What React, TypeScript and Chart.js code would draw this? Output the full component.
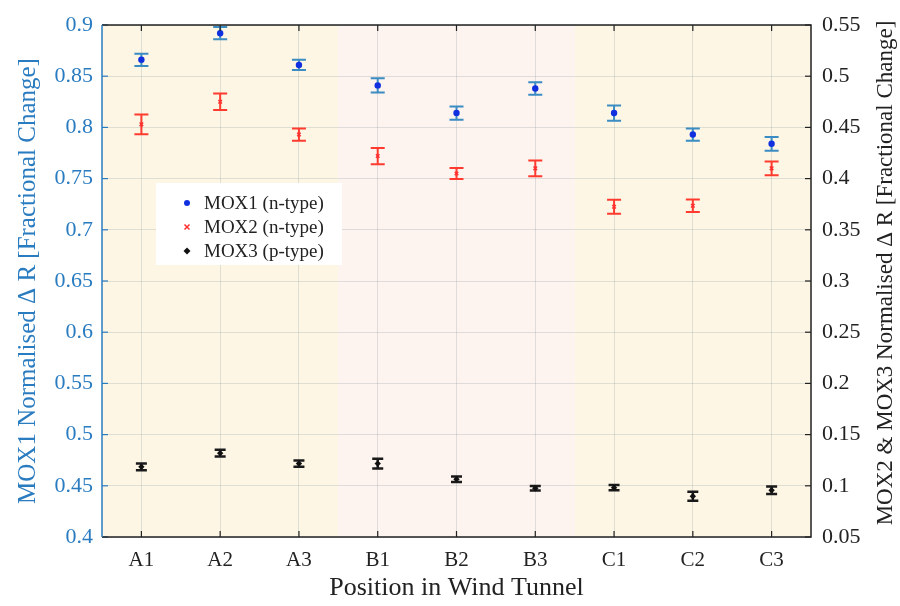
import React, { useEffect, useRef } from "react";
import { Chart, registerables } from "chart.js";

Chart.register(...registerables);

const positions = ["A1", "A2", "A3", "B1", "B2", "B3", "C1", "C2", "C3"];
const mox1 = [0.866, 0.892, 0.861, 0.841, 0.814, 0.838, 0.814, 0.793, 0.784];
const mox1Err = [0.006, 0.006, 0.005, 0.007, 0.0065, 0.006, 0.0075, 0.006, 0.0067];
const mox2 = [0.453, 0.475, 0.443, 0.422, 0.405, 0.41, 0.3725, 0.3735, 0.41];
const mox2Err = [0.0096, 0.008, 0.006, 0.008, 0.0054, 0.0076, 0.0068, 0.006, 0.0067];
const mox3 = [0.1185, 0.1319, 0.1217, 0.1217, 0.1064, 0.0976, 0.0982, 0.0898, 0.0957];
const mox3Err = [0.0033, 0.0033, 0.003, 0.0047, 0.0028, 0.0023, 0.0025, 0.0044, 0.0036];
const leftTickStep = 0.05;
const rightTickStep = 0.05;
const legendLabels = ["MOX1 (n-type)", "MOX2 (n-type)", "MOX3 (p-type)"];
const rightTitle = "MOX2 & MOX3 Normalised Δ R [Fractional Change]";

const FONT = "'Liberation Serif', 'Times New Roman', serif";
const BLUE_AXIS = "#2a7cc0";

const errorSeries = [
  { data: mox1, err: mox1Err, axis: "y", color: "#3a8cc2", width: 2, cap: 7 },
  { data: mox2, err: mox2Err, axis: "y1", color: "#ff3b2f", width: 2, cap: 7 },
  { data: mox3, err: mox3Err, axis: "y1", color: "#1a1a1a", width: 2.5, cap: 5.5 },
];

const fmt = (v: number) => String(+Number(v).toFixed(2));

const bgPlugin = {
  id: "bands",
  beforeDraw(chart: any) {
    const { ctx, chartArea: a, scales } = chart;
    const x = scales.x;
    const b1 = x.getPixelForValue(2.5);
    const b2 = x.getPixelForValue(5.5);
    ctx.save();
    ctx.fillStyle = "#fdf6e4";
    ctx.fillRect(a.left, a.top, b1 - a.left, a.bottom - a.top);
    ctx.fillStyle = "#fdf3ef";
    ctx.fillRect(b1, a.top, b2 - b1, a.bottom - a.top);
    ctx.fillStyle = "#fdf6e4";
    ctx.fillRect(b2, a.top, a.right - b2, a.bottom - a.top);
    ctx.restore();
  },
  beforeDatasetsDraw(chart: any) {
    const { ctx, scales } = chart;
    const x = scales.x;
    ctx.save();
    errorSeries.forEach((s) => {
      const ys = scales[s.axis];
      ctx.strokeStyle = s.color;
      ctx.lineWidth = s.width;
      s.data.forEach((v, i) => {
        const px = x.getPixelForValue(i);
        const top = ys.getPixelForValue(v + s.err[i]);
        const bot = ys.getPixelForValue(v - s.err[i]);
        ctx.beginPath();
        ctx.moveTo(px, top);
        ctx.lineTo(px, bot);
        ctx.moveTo(px - s.cap, top);
        ctx.lineTo(px + s.cap, top);
        ctx.moveTo(px - s.cap, bot);
        ctx.lineTo(px + s.cap, bot);
        ctx.stroke();
      });
    });
    ctx.restore();
  },
  afterDraw(chart: any) {
    const { ctx, chartArea: a, scales } = chart;
    ctx.save();
    // ticks inward
    const tl = 6;
    ctx.lineWidth = 1.2;
    ctx.strokeStyle = BLUE_AXIS;
    scales.y.ticks.forEach((t: any) => {
      const py = scales.y.getPixelForValue(t.value);
      ctx.beginPath();
      ctx.moveTo(a.left, py);
      ctx.lineTo(a.left + tl, py);
      ctx.stroke();
    });
    ctx.strokeStyle = "#222";
    scales.y1.ticks.forEach((t: any) => {
      const py = scales.y1.getPixelForValue(t.value);
      ctx.beginPath();
      ctx.moveTo(a.right, py);
      ctx.lineTo(a.right - tl, py);
      ctx.stroke();
    });
    positions.forEach((_, i) => {
      const px = scales.x.getPixelForValue(i);
      ctx.beginPath();
      ctx.moveTo(px, a.bottom);
      ctx.lineTo(px, a.bottom - tl);
      ctx.moveTo(px, a.top);
      ctx.lineTo(px, a.top + tl);
      ctx.stroke();
    });
    // frame
    ctx.lineWidth = 1.5;
    ctx.strokeStyle = "#222";
    ctx.beginPath();
    ctx.moveTo(a.left, a.top);
    ctx.lineTo(a.right, a.top);
    ctx.lineTo(a.right, a.bottom);
    ctx.lineTo(a.left, a.bottom);
    ctx.stroke();
    ctx.strokeStyle = BLUE_AXIS;
    ctx.beginPath();
    ctx.moveTo(a.left, a.top);
    ctx.lineTo(a.left, a.bottom);
    ctx.stroke();

    // right axis title, reading bottom-to-top
    ctx.save();
    ctx.translate(886, (a.top + a.bottom) / 2 - 8);
    ctx.rotate(-Math.PI / 2);
    ctx.font = `23px ${FONT}`;
    ctx.fillStyle = "#222";
    ctx.textAlign = "center";
    ctx.textBaseline = "middle";
    ctx.fillText(rightTitle, 0, 0);
    ctx.restore();

    // legend
    const lx = 156, ly = 183, lw = 186, lh = 82;
    ctx.fillStyle = "#ffffff";
    ctx.fillRect(lx, ly, lw, lh);
    const rows = [203, 227, 251];
    ctx.font = `19px ${FONT}`;
    ctx.textBaseline = "middle";
    ctx.textAlign = "left";
    rows.forEach((ry, i) => {
      const mx = 187;
      if (i === 0) {
        ctx.fillStyle = "#1030e0";
        ctx.beginPath();
        ctx.arc(mx, ry, 3, 0, Math.PI * 2);
        ctx.fill();
      } else if (i === 1) {
        ctx.strokeStyle = "#ff3030";
        ctx.lineWidth = 1.5;
        ctx.beginPath();
        ctx.moveTo(mx - 2.5, ry - 2.5);
        ctx.lineTo(mx + 2.5, ry + 2.5);
        ctx.moveTo(mx + 2.5, ry - 2.5);
        ctx.lineTo(mx - 2.5, ry + 2.5);
        ctx.stroke();
      } else {
        ctx.fillStyle = "#111";
        ctx.beginPath();
        ctx.moveTo(mx, ry - 3.5);
        ctx.lineTo(mx + 3.5, ry);
        ctx.lineTo(mx, ry + 3.5);
        ctx.lineTo(mx - 3.5, ry);
        ctx.closePath();
        ctx.fill();
      }
      ctx.fillStyle = "#222";
      ctx.fillText(legendLabels[i], 204, ry + 1);
    });
    ctx.restore();
  },
};

export default function App() {
  const ref = useRef<HTMLCanvasElement>(null);
  useEffect(() => {
    if (!ref.current) return;
    const gridColor = "rgba(120,135,145,0.22)";
    const chart = new Chart(ref.current, {
      type: "line",
      data: {
        labels: positions,
        datasets: [
          {
            label: legendLabels[0],
            data: mox1,
            yAxisID: "y",
            showLine: false,
            pointStyle: "circle",
            pointRadius: 3.2,
            pointBackgroundColor: "#1030e0",
            pointBorderColor: "#1030e0",
            pointBorderWidth: 0,
          },
          {
            label: legendLabels[1],
            data: mox2,
            yAxisID: "y1",
            showLine: false,
            pointStyle: "crossRot",
            pointRadius: 2.5,
            pointBorderColor: "#ff3030",
            pointBorderWidth: 1.5,
          },
          {
            label: legendLabels[2],
            data: mox3,
            yAxisID: "y1",
            showLine: false,
            pointStyle: "rectRot",
            pointRadius: 3.2,
            pointBackgroundColor: "#111",
            pointBorderColor: "#111",
            pointBorderWidth: 0,
          },
        ],
      },
      options: {
        responsive: false,
        animation: false,
        layout: { padding: { top: 25, left: 0, right: 0, bottom: 0 } },
        plugins: { legend: { display: false }, tooltip: { enabled: false } },
        scales: {
          x: {
            type: "category",
            offset: true,
            border: { display: false },
            grid: { color: gridColor, drawTicks: false, lineWidth: 1 },
            ticks: { color: "#222", font: { family: FONT, size: 21 }, padding: 11, maxRotation: 0 },
            title: {
              display: true,
              text: "Position in Wind Tunnel",
              color: "#222",
              font: { family: FONT, size: 26 },
              padding: { top: 0, bottom: 2 },
            },
            afterFit: (s: any) => { s.height = 69; },
          },
          y: {
            position: "left",
            min: 0.4,
            max: 0.9,
            border: { display: false },
            grid: { color: gridColor, drawTicks: false },
            ticks: {
              stepSize: leftTickStep,
              color: BLUE_AXIS,
              font: { family: FONT, size: 22 },
              padding: 9,
              callback: (v: any) => fmt(v),
            },
            title: {
              display: true,
              text: "MOX1 Normalised Δ R [Fractional Change]",
              color: BLUE_AXIS,
              font: { family: FONT, size: 25 },
              padding: { top: 13, bottom: 0 },
            },
            afterFit: (s: any) => { s.width = 102; },
          },
          y1: {
            position: "right",
            min: 0.05,
            max: 0.55,
            border: { display: false },
            grid: { drawOnChartArea: false, drawTicks: false },
            ticks: {
              stepSize: rightTickStep,
              color: "#222",
              font: { family: FONT, size: 22 },
              padding: 11,
              callback: (v: any) => fmt(v),
            },
            title: { display: false },
            afterFit: (s: any) => { s.width = 89; },
          },
        },
      },
      plugins: [bgPlugin],
    });
    return () => chart.destroy();
  }, []);
  return (
    <div style={{ position: "absolute", left: 0, top: 0, width: 900, height: 606, background: "#fff" }}>
      <canvas ref={ref} width={900} height={606} style={{ display: "block" }} />
    </div>
  );
}
